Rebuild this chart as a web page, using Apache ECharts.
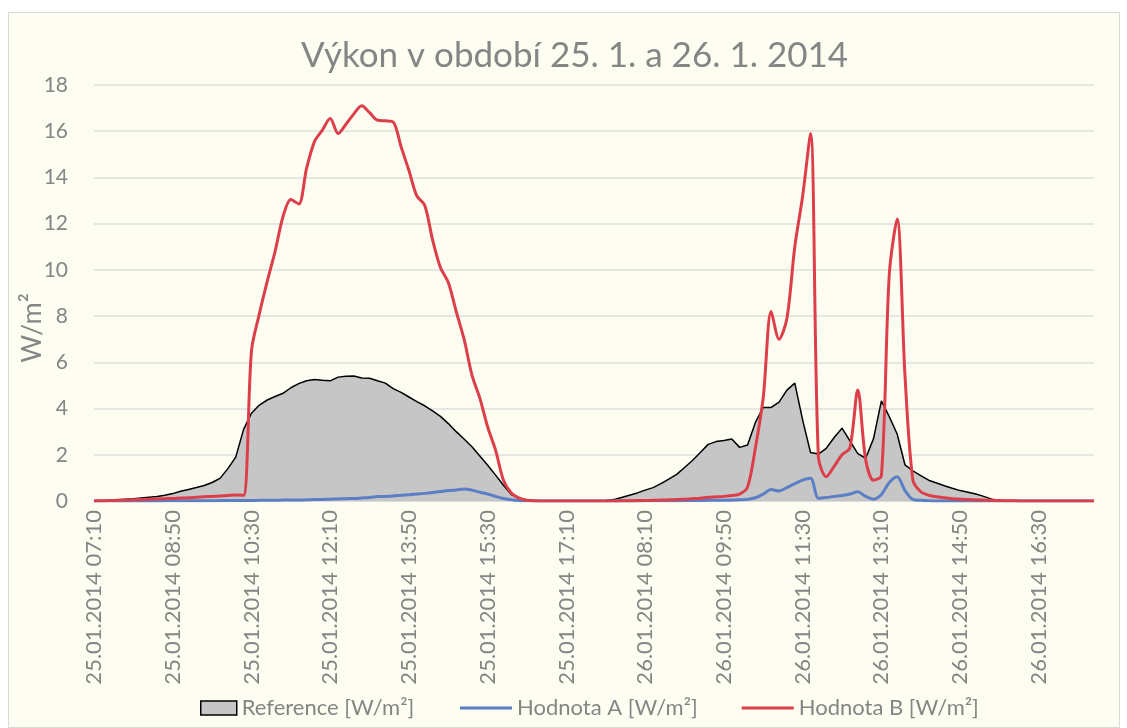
<!DOCTYPE html>
<html>
<head>
<meta charset="utf-8">
<script src="https://cdn.jsdelivr.net/npm/echarts@6/dist/echarts.min.js"></script>
<style>
  html, body { margin: 0; padding: 0; background: #fff; }
  #chart {
    position: absolute;
    left: 8px;
    top: 12px;
    width: 1110px;
    height: 714px;
    border: 1px solid #d9d9d9;
    background: #fefdf1;
  }
</style>
</head>
<body>
<div id="chart"></div>
<script>
// measurement days, 10-minute steps 07:10 - 17:40
const days = ['25.01.2014', '26.01.2014'];

const reference = [
  0, 0.01, 0.03, 0.05, 0.08, 0.1, 0.13, 0.16, 0.19, 0.25,
  0.32, 0.42, 0.5, 0.58, 0.67, 0.8, 0.98, 1.4, 1.9, 3.1,
  3.8, 4.15, 4.37, 4.52, 4.66, 4.9, 5.08, 5.2, 5.26, 5.22,
  5.2, 5.36, 5.4, 5.41, 5.32, 5.31, 5.2, 5.1, 4.86, 4.7,
  4.5, 4.3, 4.12, 3.9, 3.66, 3.35, 3.0, 2.68, 2.35, 1.95,
  1.55, 1.12, 0.68, 0.28, 0.12, 0.03, 0, 0, 0, 0,
  0, 0, 0, 0,
  0, 0.02, 0.06, 0.15, 0.25, 0.35, 0.47, 0.58, 0.75, 0.95,
  1.15, 1.45, 1.75, 2.1, 2.45, 2.57, 2.62, 2.68, 2.32, 2.42,
  3.4, 4.05, 4.05, 4.28, 4.8, 5.1, 3.5, 2.1, 2.03, 2.28,
  2.75, 3.15, 2.6, 2.05, 1.85, 2.7, 4.33, 3.65, 2.9, 1.56,
  1.3, 1.1, 0.9, 0.78, 0.66, 0.55, 0.45, 0.38, 0.3, 0.2,
  0.08, 0.03, 0.01, 0, 0, 0, 0, 0, 0, 0,
  0, 0, 0, 0
];

const hodnotaA = [
  0, 0, 0, 0, 0, 0, 0, 0, 0, 0.01,
  0.01, 0.01, 0.01, 0.01, 0.01, 0.01, 0.02, 0.02, 0.02, 0.02,
  0.02, 0.03, 0.03, 0.03, 0.04, 0.04, 0.04, 0.05, 0.06, 0.07,
  0.08, 0.09, 0.1, 0.11, 0.13, 0.15, 0.19, 0.2, 0.22, 0.25,
  0.27, 0.3, 0.33, 0.37, 0.41, 0.45, 0.48, 0.52, 0.47, 0.38,
  0.3, 0.2, 0.11, 0.05, 0.02, 0.01, 0, 0, 0, 0,
  0, 0, 0, 0,
  0, 0, 0, 0, 0, 0, 0.01, 0.01, 0.01, 0.01,
  0.01, 0.02, 0.02, 0.02, 0.03, 0.03, 0.03, 0.04, 0.05, 0.07,
  0.14, 0.3, 0.5, 0.43, 0.58, 0.75, 0.9, 0.98, 0.12, 0.15,
  0.2, 0.24, 0.3, 0.4, 0.2, 0.08, 0.28, 0.8, 1.05, 0.45,
  0.07, 0.03, 0.01, 0, 0, 0, 0, 0, 0, 0,
  0, 0, 0, 0, 0, 0, 0, 0, 0, 0,
  0, 0, 0, 0
];

const hodnotaB = [
  0, 0.01, 0.02, 0.03, 0.04, 0.05, 0.07, 0.08, 0.09, 0.1,
  0.11, 0.13, 0.14, 0.16, 0.18, 0.2, 0.22, 0.24, 0.26, 0.25,
  6.5, 8.1, 9.5, 10.8, 12.3, 13.05, 12.85, 14.4, 15.55, 16.05,
  16.55, 15.9, 16.3, 16.75, 17.1, 16.8, 16.48, 16.45, 16.4, 15.33,
  14.3, 13.2, 12.8, 11.3, 10.1, 9.45, 8.2, 7.0, 5.45, 4.45,
  3.2, 2.2, 0.9, 0.35, 0.12, 0.03, 0.01, 0, 0, 0,
  0, 0, 0, 0,
  0, 0, 0, 0.01, 0.01, 0.02, 0.02, 0.03, 0.04, 0.05,
  0.06, 0.08, 0.1, 0.12, 0.16, 0.18, 0.2, 0.24, 0.3, 0.6,
  2.3, 4.5, 8.2, 7.0, 7.9, 11.0, 13.2, 15.9, 1.9, 1.05,
  1.5, 2.0, 2.3, 4.8, 1.8, 0.9, 1.1, 9.8, 12.2, 5.4,
  0.9, 0.4, 0.25, 0.18, 0.14, 0.1, 0.08, 0.06, 0.05, 0.04,
  0.03, 0.02, 0.01, 0.01, 0, 0, 0, 0, 0, 0,
  0, 0, 0, 0
];

let categories = [];
days.forEach(d => {
  for (let m = 7 * 60 + 10; m <= 17 * 60 + 40; m += 10) {
    let h = String(Math.floor(m / 60)).padStart(2, '0');
    let mm = String(m % 60).padStart(2, '0');
    categories.push(d + ' ' + h + ':' + mm);
  }
});

const gray = '#858585';
const font = 'Lato';
const lineIcon = 'path://M0,0H52V3H0Z';

let myChart = echarts.init(document.getElementById('chart'));
let option = {
  animation: false,
  textStyle: { fontFamily: font },
  title: {
    text: 'Výkon v období 25. 1. a 26. 1. 2014',
    left: 292,
    top: 25,
    padding: 0,
    textStyle: { color: gray, fontSize: 35, fontWeight: 'normal', fontFamily: font }
  },
  legend: [
    {
      left: 191,
      top: 684,
      padding: 0,
      itemWidth: 36,
      itemHeight: 14,
      itemGap: 5,
      textStyle: { color: gray, fontSize: 22, fontFamily: font },
      data: [
        {
          name: 'Reference [W/m²]',
          icon: 'rect',
          itemStyle: { color: '#c6c6c6', borderColor: '#000', borderWidth: 1.5 }
        }
      ]
    },
    {
      left: 451,
      top: 684,
      padding: 0,
      itemWidth: 52,
      itemHeight: 14,
      itemGap: 44,
      textStyle: { color: gray, fontSize: 22, fontFamily: font },
      data: [
        { name: 'Hodnota A [W/m²]', icon: lineIcon },
        { name: 'Hodnota B [W/m²]', icon: lineIcon }
      ]
    }
  ],
  grid: {
    left: 85,
    right: 25,
    top: 72,
    bottom: 226,
    outerBoundsMode: 'none'
  },
  xAxis: {
    type: 'category',
    boundaryGap: false,
    data: categories,
    axisLine: { lineStyle: { color: '#d9d9d9', width: 1.5 } },
    axisTick: { show: false },
    axisLabel: {
      interval: 9,
      rotate: 90,
      margin: 9,
      color: gray,
      fontSize: 22,
      fontFamily: font
    }
  },
  yAxis: {
    type: 'value',
    min: 0,
    max: 18,
    interval: 2,
    name: 'W/m²',
    nameLocation: 'middle',
    nameGap: 48,
    nameMoveOverlap: false,
    nameTextStyle: { color: gray, fontSize: 27, fontFamily: font, padding: [0, 70, 0, 0] },
    axisLine: { show: false },
    axisTick: { show: false },
    axisLabel: { color: gray, fontSize: 21, margin: 26, fontFamily: font },
    splitLine: { lineStyle: { color: '#dedede', width: 1.5 } }
  },
  series: [
    {
      name: 'Reference [W/m²]',
      type: 'line',
      data: reference,
      symbol: 'none',
      color: '#c6c6c6',
      lineStyle: { color: '#000', width: 1.5 },
      areaStyle: { color: '#c6c6c6', opacity: 1 }
    },
    {
      name: 'Hodnota A [W/m²]',
      type: 'line',
      data: hodnotaA,
      symbol: 'none',
      smooth: 0.3,
      color: '#5b7fc4',
      lineStyle: { width: 3 }
    },
    {
      name: 'Hodnota B [W/m²]',
      type: 'line',
      data: hodnotaB,
      symbol: 'none',
      smooth: 0.3,
      color: '#dc3f4a',
      lineStyle: { width: 3 }
    }
  ]
};
myChart.setOption(option);
</script>
</body>
</html>
